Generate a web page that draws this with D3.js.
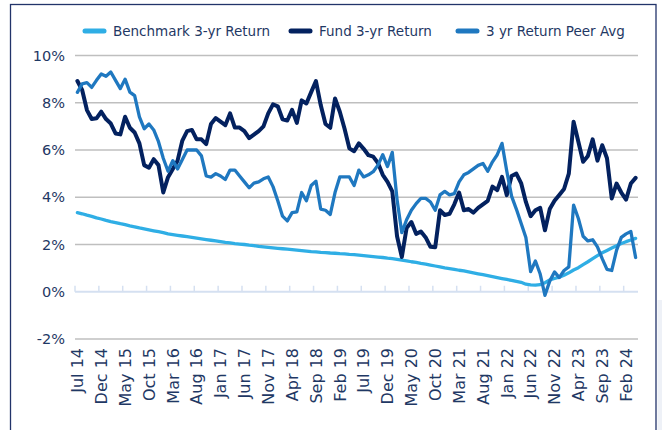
<!DOCTYPE html>
<html>
<head>
<meta charset="utf-8">
<script src="https://cdn.jsdelivr.net/npm/d3@7"></script>
<style>
  html, body { margin: 0; padding: 0; background: #ffffff; }
  svg { display: block; }
  text { font-family: "DejaVu Sans", sans-serif; fill: #1F3864; }
</style>
</head>
<body>
<svg id="chart" width="662" height="430"></svg>
<script>
// ---------- DATA ----------
// Monthly categories: Jul 2014 .. Apr 2024
const startMonth = new Date(2014, 6, 1);
const endMonthExclusive = new Date(2024, 4, 1);
const categories = d3.timeMonth.range(startMonth, endMonthExclusive).map(d3.timeFormat("%b %y"));

const seriesNames = ["Benchmark 3-yr Return", "Fund 3-yr Return", "3 yr Return Peer Avg"];

const benchmark = [
  3.35, 3.30, 3.24, 3.19, 3.13, 3.08, 3.02, 2.97, 2.93, 2.88,
  2.84, 2.79, 2.75, 2.70, 2.66, 2.62, 2.58, 2.54, 2.50, 2.45,
  2.42, 2.39, 2.36, 2.33, 2.30, 2.27, 2.24, 2.21, 2.18, 2.15,
  2.12, 2.09, 2.07, 2.04, 2.02, 2.00, 1.97, 1.95, 1.92, 1.90,
  1.88, 1.86, 1.84, 1.82, 1.80, 1.78, 1.76, 1.74, 1.72, 1.70,
  1.69, 1.67, 1.66, 1.64, 1.63, 1.61, 1.60, 1.58, 1.57, 1.55,
  1.53, 1.51, 1.49, 1.47, 1.45, 1.42, 1.40, 1.37, 1.34, 1.31,
  1.27, 1.24, 1.20, 1.17, 1.13, 1.09, 1.05, 1.01, 0.98, 0.95,
  0.91, 0.88, 0.84, 0.80, 0.76, 0.72, 0.68, 0.64, 0.60, 0.56,
  0.52, 0.48, 0.44, 0.40, 0.32, 0.29, 0.28, 0.30, 0.38, 0.50,
  0.56, 0.62, 0.70, 0.80, 0.92, 1.02, 1.15, 1.27, 1.40, 1.53,
  1.65, 1.75, 1.85, 1.95, 2.04, 2.12, 2.19, 2.26
];

const fund = [
  8.92, 8.54, 7.69, 7.31, 7.34, 7.62, 7.31, 7.12, 6.70, 6.66,
  7.41, 6.94, 6.74, 6.28, 5.36, 5.25, 5.61, 5.36, 4.20, 4.85,
  5.20, 5.55, 6.40, 6.80, 6.85, 6.45, 6.45, 6.25, 7.10, 7.35,
  7.20, 7.05, 7.55, 6.95, 6.95, 6.80, 6.50, 6.65, 6.80, 7.00,
  7.55, 7.93, 7.85, 7.30, 7.25, 7.70, 7.15, 8.10, 7.97, 8.45,
  8.92, 7.90, 7.10, 6.94, 8.18, 7.62, 6.90, 6.07, 5.95, 6.28,
  6.05, 5.78, 5.72, 5.45, 4.95, 4.65, 4.25, 2.35, 1.47, 2.70,
  2.95, 2.45, 2.55, 2.30, 1.90, 1.88, 3.45, 3.25, 3.30, 3.70,
  4.20, 3.45, 3.50, 3.35, 3.55, 3.70, 3.85, 4.45, 4.30, 4.86,
  4.09, 4.90, 5.00, 4.60, 3.80, 3.20, 3.45, 3.55, 2.60, 3.50,
  3.85, 4.10, 4.35, 5.00, 7.20, 6.35, 5.50, 5.75, 6.45, 5.55,
  6.20, 5.65, 3.95, 4.58, 4.20, 3.90, 4.58, 4.82
];

const peerAvg = [
  8.44, 8.80, 8.85, 8.65, 8.95, 9.22, 9.12, 9.30, 8.95, 8.60,
  9.00, 8.45, 8.30, 7.40, 6.90, 7.10, 6.85, 6.35, 5.65, 5.10,
  5.55, 5.20, 5.60, 6.00, 6.00, 6.00, 5.75, 4.90, 4.85, 5.00,
  4.90, 4.75, 5.15, 5.15, 4.90, 4.65, 4.40, 4.60, 4.65, 4.78,
  4.86, 4.45, 3.85, 3.20, 3.00, 3.35, 3.38, 4.20, 3.85, 4.50,
  4.68, 3.50, 3.45, 3.27, 4.20, 4.86, 4.86, 4.86, 4.50, 5.15,
  4.86, 4.95, 5.08, 5.36, 5.80, 5.30, 5.90, 3.90, 2.50, 3.05,
  3.45, 3.73, 3.95, 3.95, 3.80, 3.45, 4.10, 4.25, 4.10, 4.15,
  4.65, 4.95, 5.05, 5.20, 5.35, 5.43, 5.10, 5.50, 5.80, 6.28,
  5.10, 4.05, 3.50, 2.90, 2.30, 0.85, 1.30, 0.75, -0.15, 0.45,
  0.84, 0.60, 0.90, 1.05, 3.67, 3.10, 2.35, 2.15, 2.20, 1.90,
  1.40, 0.95, 0.90, 1.75, 2.30, 2.45, 2.55, 1.45
];

const yTicks = [-2, 0, 2, 4, 6, 8, 10];
const labelEvery = 5;

// ---------- LAYOUT ----------
const svg = d3.select("#chart");
const plot = { left: 75, right: 638, top: 55.5, bottom: 339 };
const colors = { benchmark: "#2FAEE5", fund: "#03215F", peer: "#1F78C0" };

const x = d3.scaleBand().domain(categories).range([plot.left, plot.right]).paddingInner(0).paddingOuter(0);
const y = d3.scaleLinear().domain([-2, 10]).range([plot.bottom, plot.top]);
const cx = c => x(c) + x.bandwidth() / 2;

// Frame
svg.append("rect")
  .attr("x", 10.5).attr("y", 4.5).attr("width", 645.5).attr("height", 460)
  .attr("fill", "none").attr("stroke", "#22346A").attr("stroke-width", 1.3);

// light edge outside frame, bottom-right
svg.append("rect")
  .attr("x", 657.5).attr("y", 300).attr("width", 5).attr("height", 130)
  .attr("fill", "#EEF1F7");

// Gridlines
svg.append("g").selectAll("line")
  .data(yTicks.filter(t => t !== 0))
  .join("line")
  .attr("x1", plot.left).attr("x2", plot.right)
  .attr("y1", d => y(d)).attr("y2", d => y(d))
  .attr("stroke", "#BFBFBF").attr("stroke-width", 1.4);

// Y axis labels
const yAxis = d3.axisLeft(y).tickValues(yTicks).tickFormat(d => d + "%").tickSize(0).tickPadding(0);
const gy = svg.append("g").attr("transform", `translate(65,0)`).call(yAxis);
gy.select(".domain").remove();
gy.selectAll("text")
  .attr("font-family", "DejaVu Sans, sans-serif")
  .attr("font-size", 14.5)
  .attr("fill", "#1F3864");

// Category axis at 0%
const y0 = y(0);
svg.append("line")
  .attr("x1", plot.left).attr("x2", plot.right)
  .attr("y1", y0).attr("y2", y0)
  .attr("stroke", "#D5E0F1").attr("stroke-width", 2);
const tickCats = categories.filter((c, i) => i % labelEvery === 0);
svg.append("g").selectAll("line")
  .data(tickCats)
  .join("line")
  .attr("x1", d => x(d)).attr("x2", d => x(d))
  .attr("y1", y0).attr("y2", y0 - 6)
  .attr("stroke", "#D5E0F1").attr("stroke-width", 1.5);

// X labels (low position, below plot)
svg.append("g").selectAll("text")
  .data(tickCats)
  .join("text")
  .attr("transform", d => `translate(${cx(d)},${plot.bottom + 9}) rotate(-90)`)
  .attr("text-anchor", "end")
  .attr("dy", "0.36em")
  .attr("font-size", 16)
  .attr("fill", "#1F3864")
  .text(d => d);

// Lines
const line = data => d3.line()
  .x((d, i) => cx(categories[i]))
  .y(d => y(d))
  .curve(d3.curveLinear)(data);

svg.append("path").attr("d", line(benchmark))
  .attr("fill", "none").attr("stroke", colors.benchmark).attr("stroke-width", 3.3)
  .attr("stroke-linejoin", "round").attr("stroke-linecap", "round");
svg.append("path").attr("d", line(fund))
  .attr("fill", "none").attr("stroke", colors.fund).attr("stroke-width", 4)
  .attr("stroke-linejoin", "round").attr("stroke-linecap", "round");
svg.append("path").attr("d", line(peerAvg))
  .attr("fill", "none").attr("stroke", colors.peer).attr("stroke-width", 3.3)
  .attr("stroke-linejoin", "round").attr("stroke-linecap", "round");

// Legend
const legendItems = [
  { name: seriesNames[0], color: colors.benchmark, x: 85 },
  { name: seriesNames[1], color: colors.fund, x: 291 },
  { name: seriesNames[2], color: colors.peer, x: 458 }
];
const lg = svg.append("g");
legendItems.forEach(it => {
  lg.append("line")
    .attr("x1", it.x).attr("x2", it.x + 19)
    .attr("y1", 31).attr("y2", 31)
    .attr("stroke", it.color).attr("stroke-width", 5).attr("stroke-linecap", "round");
  lg.append("text")
    .attr("x", it.x + 28).attr("y", 31).attr("dy", "0.36em")
    .attr("font-size", 13.5).attr("fill", "#1F3864")
    .text(it.name);
});
</script>
</body>
</html>
